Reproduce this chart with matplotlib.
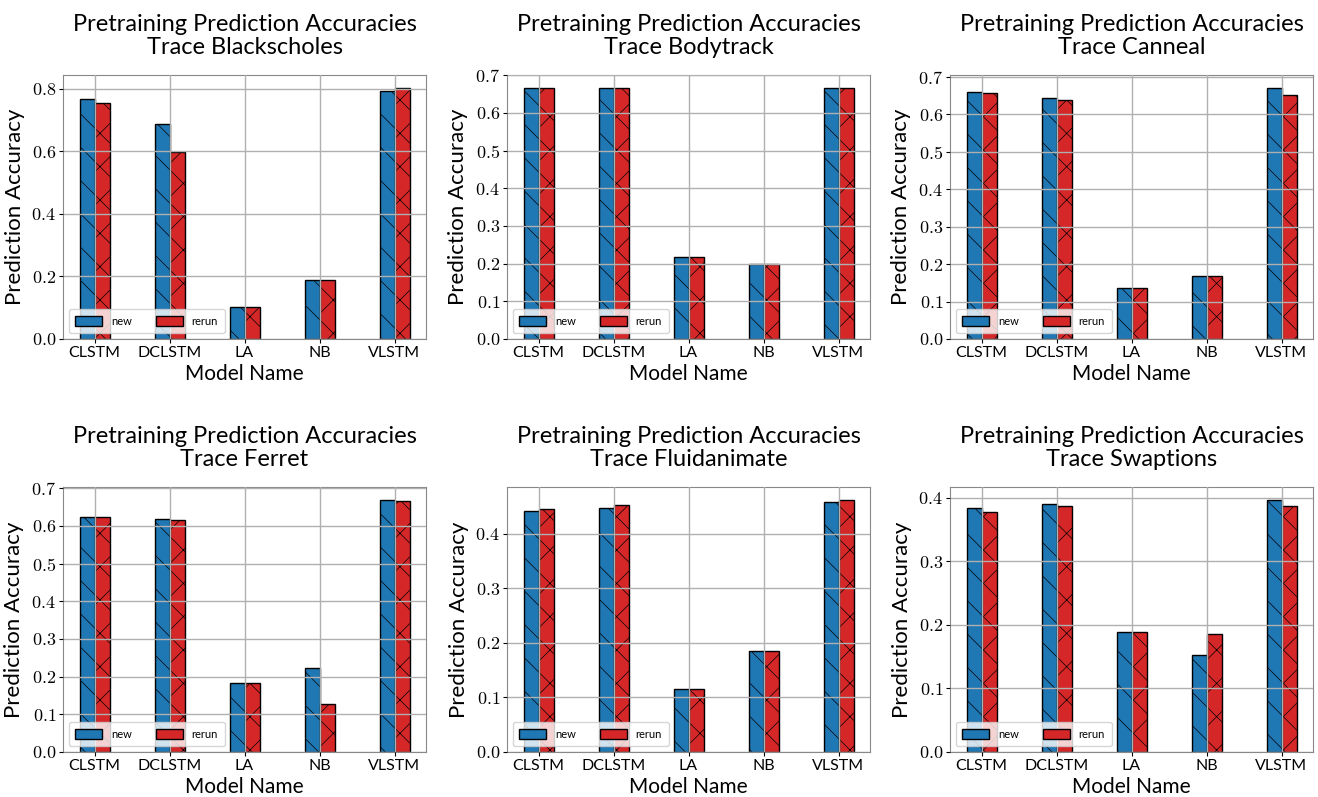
import matplotlib
matplotlib.use("Agg")
import matplotlib.pyplot as plt
import numpy as np
from matplotlib.ticker import FuncFormatter, MultipleLocator
from matplotlib.patches import Patch

plt.rcParams['font.family'] = ['Lato', 'DejaVu Sans']
plt.rcParams['mathtext.fontset'] = 'cm'
plt.rcParams['hatch.linewidth'] = 0.5

models = ["CLSTM", "DCLSTM", "LA", "NB", "VLSTM"]
traces = ["Blackscholes", "Bodytrack", "Canneal", "Ferret", "Fluidanimate", "Swaptions"]

new_blackscholes = [0.768, 0.688, 0.101, 0.190, 0.792]
rerun_blackscholes = [0.755, 0.597, 0.101, 0.190, 0.803]
new_bodytrack = [0.667, 0.667, 0.218, 0.200, 0.667]
rerun_bodytrack = [0.667, 0.667, 0.218, 0.200, 0.667]
new_canneal = [0.660, 0.643, 0.135, 0.168, 0.671]
rerun_canneal = [0.657, 0.638, 0.135, 0.168, 0.652]
new_ferret = [0.623, 0.618, 0.182, 0.224, 0.670]
rerun_ferret = [0.623, 0.617, 0.182, 0.128, 0.666]
new_fluidanimate = [0.443, 0.448, 0.115, 0.185, 0.458]
rerun_fluidanimate = [0.445, 0.453, 0.115, 0.185, 0.463]
new_swaptions = [0.384, 0.390, 0.189, 0.153, 0.397]
rerun_swaptions = [0.378, 0.387, 0.189, 0.186, 0.387]
ytick_steps = [0.2, 0.1, 0.1, 0.1, 0.1, 0.1]

new_vals = [new_blackscholes, new_bodytrack, new_canneal, new_ferret, new_fluidanimate, new_swaptions]
rerun_vals = [rerun_blackscholes, rerun_bodytrack, rerun_canneal, rerun_ferret, rerun_fluidanimate, rerun_swaptions]

W, H = 1318, 797
fig = plt.figure(figsize=(W / 100, H / 100), dpi=100)

lefts = [63, 507, 950]
width_px = 363
rows = [(75, 339), (487, 752)]

blue = '#1f77b4'
red = '#d62728'
bw = 0.2
x = np.arange(len(models))

for i, trace in enumerate(traces):
    r, c = divmod(i, 3)
    top, bot = rows[r]
    ax = fig.add_axes([lefts[c] / W, 1 - bot / H, width_px / W, (bot - top) / H])
    ax.bar(x - bw / 2, new_vals[i], bw, color=blue, edgecolor='black', linewidth=1.0,
           hatch='\\', label='new', zorder=2)
    ax.bar(x + bw / 2, rerun_vals[i], bw, color=red, edgecolor='black', linewidth=1.0,
           hatch='x', label='rerun', zorder=2)
    ax.set_xticks(x)
    ax.set_xticklabels(models, fontsize=11.5)
    ax.yaxis.set_major_locator(MultipleLocator(ytick_steps[i]))
    ax.yaxis.set_major_formatter(FuncFormatter(lambda v, p: f"${v:.1f}$"))
    ax.tick_params(axis='y', labelsize=13, length=3, pad=2)
    ax.tick_params(axis='x', length=3, pad=2)
    ax.grid(True, color='#b0b0b0', linewidth=1.0, zorder=3)
    ax.set_axisbelow(False)
    for s in ax.spines.values():
        s.set_color('#888888')
    ax.set_title(f"Pretraining Prediction Accuracies\nTrace {trace}", fontsize=17,
                 linespacing=1.1, pad=15)
    ax.set_ylabel("Prediction Accuracy", fontsize=16, labelpad=5)
    ax.set_xlabel("Model Name", fontsize=15, labelpad=3)
    handles = [Patch(facecolor=blue, edgecolor='black'), Patch(facecolor=red, edgecolor='black')]
    ax.legend(handles, ['new', 'rerun'], loc='lower left', ncol=2, fontsize=8,
              handlelength=2.4, handleheight=1.0, columnspacing=2.2, borderpad=0.6,
              framealpha=0.8)

fig.savefig("out.png", dpi=100)
